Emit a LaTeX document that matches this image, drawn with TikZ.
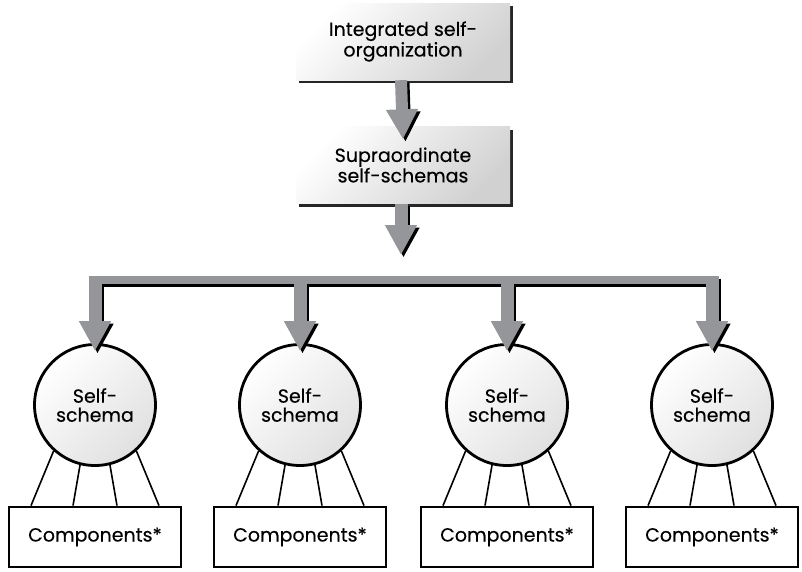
\documentclass[tikz,border=0pt]{standalone}
\usepackage{fontspec}
\setmainfont{Poppins}[FakeBold=0.3]
\usepackage{tikz}
\usetikzlibrary{arrows.meta, calc, shadows}
\definecolor{arrowgray}{HTML}{949699}

\begin{document}
\begin{tikzpicture}[x=1pt, y=-1pt,
  font=\fontsize{19}{19}\selectfont,
  shadebox/.style={align=center, minimum width=214pt, minimum height=77pt, inner sep=0pt,
    left color=white, right color=black!18, shading angle=45,
    drop shadow={shadow xshift=3pt, shadow yshift=-3pt, opacity=1, fill=black!85}},
  schema/.style={circle, draw, line width=2.8pt, minimum size=121pt, inner sep=0pt, align=center,
    left color=white, right color=black!12, shading angle=45},
  comp/.style={draw, line width=2.8pt, fill=white, minimum width=172pt, minimum height=60pt},
  link/.style={line width=1.6pt},
  big/.style={line width=#1, -{Triangle[width=30pt,length=30pt]}}]
\useasboundingbox (0,0) rectangle (802,571);
\node[shadebox] (org) at (403,41.5) {Integrated self-\\organization};
\node[shadebox] (sup) at (403,165) {Supraordinate\\self-schemas};
\coordinate (split) at (401,255);
\coordinate (bar) at (400,280);
\coordinate (bartop) at (400,276);
\foreach \x [count=\i] in {95,300,507,712} {
  \node[schema] (s\i) at (\x,405) {Self-\\schema};
  \node[comp] (c\i) at (\x,537) {Components*};
  \foreach \a/\d in {228/-64,256/-22,284/22,312/64}
    \draw[link] (s\i.\a) -- ([xshift=\d pt]c\i.north);
}
% grey arrows, black copy first as shadow
\foreach \col/\dx in {black/2.5, arrowgray/0} {
  \begin{scope}[color=\col, transform canvas={xshift=\dx pt, yshift=-\dx pt}]
  \draw[big=12pt] ([xshift=-2pt]org.south) -- ([yshift=-13pt]sup.north);
  \draw[big=13pt] ([xshift=-2pt]sup.south) -- (split);
  \draw[line width=8pt] ($(s1.north |- bar)+(-6.5,0)$) -- ($(s4.north |- bar)+(6.5,0)$);
  \foreach \i in {1,...,4}
    \draw[big=13pt] (s\i.north |- bartop) -- ([yshift=-8pt]s\i.north);
  \end{scope}
}
\end{tikzpicture}
\end{document}
